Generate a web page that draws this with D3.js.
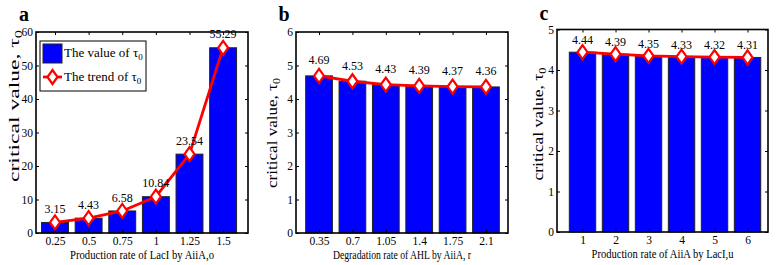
<!DOCTYPE html>
<html>
<head>
<meta charset="utf-8">
<script src="https://cdn.jsdelivr.net/npm/d3@7"></script>
<style>
  body { margin: 0; background: #fff; }
  svg { display: block; }
  text { font-family: "Liberation Serif", "Times New Roman", serif; fill: #000; }
</style>
</head>
<body>
<svg id="chart" width="782" height="265"></svg>
<script>
// ---- data ----
const panelLetters = ["a", "b", "c"];
const categoriesA = ["0.25", "0.5", "0.75", "1", "1.25", "1.5"];
const valuesA = [3.15, 4.43, 6.58, 10.84, 23.54, 55.29];
const categoriesB = ["0.35", "0.7", "1.05", "1.4", "1.75", "2.1"];
const valuesB = [4.69, 4.53, 4.43, 4.39, 4.37, 4.36];
const categoriesC = ["1", "2", "3", "4", "5", "6"];
const valuesC = [4.44, 4.39, 4.35, 4.33, 4.32, 4.31];
const yTicksA = [0, 10, 20, 30, 40, 50, 60];
const yTicksB = [0, 1, 2, 3, 4, 5, 6];
const yTicksC = [0, 1, 2, 3, 4, 5];
const xTitles = ["Production rate of LacI by AiiA,o", "Degradation rate of AHL by AiiA, r", "Production rate of AiiA by LacI,u"];
const legendLabels = ["The value of ", "The trend of "];

// ---- layout (positions/styles) ----
const layouts = [
  { left: 36, right: 248, top: 32, bottom: 233, xdom: [0.435, 6.74], ymax: 60, labelOff: 2.8,
    xt: { len: 144, y: 258.5, size: 12.5 },
    ylab: { x: 14, y: 106, len: 152, size: 15 }, letter: { x: 24, y: 21 }, legend: true },
  { left: 296, right: 508, top: 32, bottom: 233, xdom: [0.31, 6.66], ymax: 6, labelOff: 0.35,
    xt: { len: 138, y: 258.5, size: 12.5 },
    ylab: { x: 272, y: 133, len: 110, size: 15 }, letter: { x: 284, y: 21 }, legend: false },
  { left: 557, right: 768, top: 29.5, bottom: 232, xdom: [0.227, 6.62], ymax: 5, labelOff: 0.2,
    xt: { len: 142, y: 258, size: 12 },
    ylab: { x: 538, y: 124, len: 113, size: 15 }, letter: { x: 544, y: 20 }, legend: false }
];
const panels = [
  { cats: categoriesA, vals: valuesA, ticks: yTicksA },
  { cats: categoriesB, vals: valuesB, ticks: yTicksB },
  { cats: categoriesC, vals: valuesC, ticks: yTicksC }
];

const svg = d3.select("#chart");
const BLUE = "#0000ff", RED = "#ff0000";

function diamond(g, cx, cy) {
  const w = 5, h = 7;
  g.append("path")
    .attr("d", `M${cx},${cy - h}L${cx + w},${cy}L${cx},${cy + h}L${cx - w},${cy}Z`)
    .attr("fill", "#fff").attr("stroke", RED).attr("stroke-width", 2.2);
}

panels.forEach((p, i) => {
  const L = layouts[i];
  const g = svg.append("g");
  const x = d3.scaleLinear().domain(L.xdom).range([L.left, L.right]);
  const y = d3.scaleLinear().domain([0, L.ymax]).range([L.bottom, L.top]);
  const idx = p.cats.map((c, k) => k + 1);

  // bars
  g.selectAll("rect.bar").data(p.vals).enter().append("rect")
    .attr("class", "bar")
    .attr("x", (d, k) => x(idx[k] - 0.4))
    .attr("width", (d, k) => x(idx[k] + 0.4) - x(idx[k] - 0.4))
    .attr("y", d => y(d))
    .attr("height", d => y(0) - y(d))
    .attr("fill", BLUE).attr("stroke", "#222").attr("stroke-width", 1);

  // axes with inward ticks
  const xAxis = d3.axisBottom(x).tickValues(idx).tickFormat((d, k) => p.cats[k]).tickSizeInner(-3).tickSizeOuter(0).tickPadding(4);
  const yAxis = d3.axisLeft(y).tickValues(p.ticks).tickFormat(d3.format("d")).tickSizeInner(-3).tickSizeOuter(0).tickPadding(3);
  const xTop = d3.axisTop(x).tickValues(idx).tickFormat("").tickSizeInner(-3).tickSizeOuter(0);
  const yRight = d3.axisRight(y).tickValues(p.ticks).tickFormat("").tickSizeInner(-3).tickSizeOuter(0);

  const gx = g.append("g").attr("transform", `translate(0,${L.bottom})`).call(xAxis);
  const gy = g.append("g").attr("transform", `translate(${L.left},0)`).call(yAxis);
  const gxt = g.append("g").attr("transform", `translate(0,${L.top})`).call(xTop);
  const gyr = g.append("g").attr("transform", `translate(${L.right},0)`).call(yRight);
  [gx, gy, gxt, gyr].forEach(a => {
    a.select(".domain").remove();
    a.selectAll("line").attr("stroke", "#000").attr("stroke-width", 1);
    a.selectAll("text").attr("font-size", 11.5);
  });

  // axes frame
  g.append("rect").attr("x", L.left).attr("y", L.top)
    .attr("width", L.right - L.left).attr("height", L.bottom - L.top)
    .attr("fill", "none").attr("stroke", "#000").attr("stroke-width", 1.6);

  // trend line
  const line = d3.line().x((d, k) => x(idx[k])).y(d => y(d));
  g.append("path").datum(p.vals).attr("d", line)
    .attr("fill", "none").attr("stroke", RED).attr("stroke-width", 2.8).attr("stroke-linejoin", "round");
  p.vals.forEach((v, k) => diamond(g, x(idx[k]), y(v)));

  // value labels
  g.selectAll("text.val").data(p.vals).enter().append("text")
    .attr("class", "val")
    .attr("x", (d, k) => x(idx[k]))
    .attr("y", d => y(d + L.labelOff))
    .attr("text-anchor", "middle").attr("font-size", 12)
    .text(d => d.toFixed(2));

  // x title
  g.append("text").attr("x", (L.left + L.right) / 2).attr("y", L.xt.y)
    .attr("text-anchor", "middle").attr("font-size", L.xt.size)
    .attr("textLength", L.xt.len).attr("lengthAdjust", "spacingAndGlyphs")
    .text(xTitles[i]);

  // y title
  const yt = g.append("text")
    .attr("transform", `translate(${L.ylab.x},${L.ylab.y}) rotate(-90)`)
    .attr("text-anchor", "middle").attr("dy", "0.3em")
    .attr("font-size", L.ylab.size)
    .attr("textLength", L.ylab.len).attr("lengthAdjust", "spacingAndGlyphs");
  yt.append("tspan").text("critical value, τ");
  yt.append("tspan").attr("font-size", L.ylab.size * 0.7).attr("dy", "0.3em").text("0");

  // panel letter
  g.append("text").attr("x", L.letter.x).attr("y", L.letter.y)
    .attr("text-anchor", "middle").attr("font-size", 20).attr("font-weight", "bold")
    .text(panelLetters[i]);

  // legend
  if (L.legend) {
    const lg = g.append("g");
    lg.append("rect").attr("x", 40).attr("y", 41).attr("width", 106).attr("height", 50)
      .attr("fill", "#fff").attr("stroke", "#000").attr("stroke-width", 1);
    lg.append("rect").attr("x", 43).attr("y", 44).attr("width", 19).attr("height", 19)
      .attr("fill", BLUE).attr("stroke", "#222").attr("stroke-width", 1);
    lg.append("line").attr("x1", 43).attr("x2", 62).attr("y1", 77).attr("y2", 77)
      .attr("stroke", RED).attr("stroke-width", 2.8);
    diamond(lg, 52.5, 77);
    [57, 81].forEach((yy, k) => {
      const t = lg.append("text").attr("x", 64).attr("y", yy).attr("font-size", 13);
      t.append("tspan").text(legendLabels[k] + "τ");
      t.append("tspan").attr("font-size", 9).attr("dy", "0.35em").text("0");
    });
  }
});
</script>
</body>
</html>
